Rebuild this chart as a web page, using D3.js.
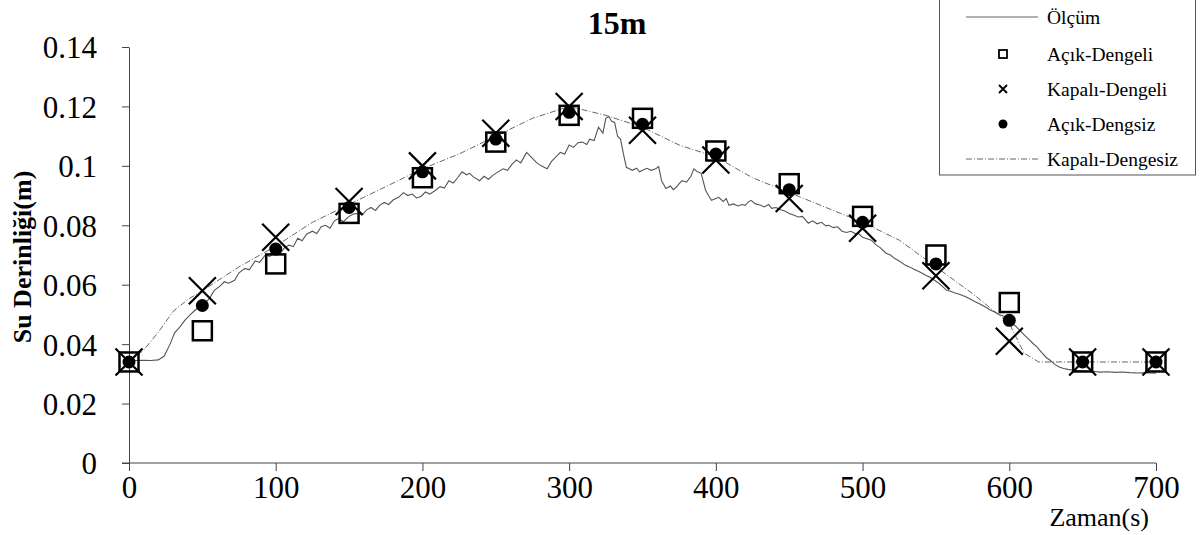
<!DOCTYPE html>
<html>
<head>
<meta charset="utf-8">
<script src="https://cdn.jsdelivr.net/npm/d3@7"></script>
<style>
  body { margin: 0; background: #fff; }
  text { font-family: "Liberation Serif", "Times New Roman", serif; fill: #000; }
</style>
</head>
<body>
<div id="chart"></div>
<script>
var width = 1203,
    height = 535;

// marker times (s)
var times = [0, 50, 100, 150, 200, 250, 300, 350, 400, 450, 500, 550, 600, 650, 700];

// Açık-Dengeli (squares)
var acikDengeli = [0.034, 0.0445, 0.067, 0.084, 0.096, 0.108, 0.117, 0.116, 0.105, 0.094, 0.083, 0.070, 0.054, 0.034, 0.034];
// Kapalı-Dengeli (crosses)
var kapaliDengeli = [0.034, 0.058, 0.076, 0.088, 0.100, 0.111, 0.120, 0.112, 0.102, 0.089, 0.079, 0.063, 0.041, 0.034, 0.034];
// Açık-Dengsiz (dots)
var acikDengsiz = [0.034, 0.053, 0.072, 0.086, 0.098, 0.109, 0.118, 0.114, 0.104, 0.092, 0.081, 0.067, 0.048, 0.034, 0.034];

// Kapalı-Dengesiz (dashed line)
var kdT = [0, 10, 20, 30, 40, 50, 75, 100, 125, 150, 175, 200, 225, 250, 275, 300, 325, 350, 375, 400, 425, 450, 475, 500, 525, 550, 575, 600, 610, 620, 700];
var kdV = [0.034, 0.038, 0.044, 0.051, 0.055, 0.058, 0.066, 0.073, 0.081, 0.087, 0.093, 0.099, 0.104, 0.110, 0.116, 0.120, 0.117, 0.113, 0.107, 0.103, 0.096, 0.091, 0.086, 0.081, 0.075, 0.066, 0.057, 0.047, 0.037, 0.034, 0.034];

// Ölçüm (measured)
var olcumT = [0, 5, 10, 15, 20, 24, 28, 31, 35, 38, 42, 45, 48, 52, 55, 58, 62, 65, 68, 72, 75, 79, 82, 86, 89, 93, 96, 99, 103, 106, 109, 112, 115, 118, 121, 125, 128, 131, 134, 137, 140, 143, 146, 150, 153, 156, 159, 162, 165, 168, 171, 174, 177, 180, 184, 187, 190, 193, 196, 199, 202, 205, 209, 212, 215, 218, 221, 224, 227, 230, 232, 235, 239, 242, 245, 248, 251, 255, 258, 261, 264, 267, 271, 274, 278, 281, 285, 288, 291, 294, 297, 300, 303, 306, 309, 312, 314, 317, 320, 323, 325, 327, 329, 331, 333, 335, 337, 339, 341, 343, 346, 348, 350, 353, 356, 359, 361, 363, 366, 369, 371, 373, 375, 377, 380, 383, 385, 387, 390, 393, 395, 397, 400, 402, 405, 407, 409, 412, 415, 418, 420, 422, 424, 427, 430, 433, 436, 438, 441, 444, 447, 450, 453, 456, 459, 463, 466, 469, 472, 475, 477, 480, 483, 486, 489, 492, 495, 497, 500, 503, 506, 509, 512, 516, 519, 522, 525, 529, 532, 535, 538, 541, 543, 546, 549, 552, 555, 557, 560, 563, 566, 569, 571, 574, 577, 580, 584, 587, 590, 593, 596, 598, 601, 604, 607, 610, 613, 616, 619, 622, 625, 628, 631, 634, 637, 640, 643, 647, 652, 657, 662, 667, 672, 677, 682, 688, 694, 700];
var olcumV = [0.0346, 0.0345, 0.0346, 0.0345, 0.0347, 0.0360, 0.0400, 0.0437, 0.0460, 0.0480, 0.0500, 0.0514, 0.0525, 0.0540, 0.0555, 0.0580, 0.0595, 0.0610, 0.0605, 0.0615, 0.0640, 0.0655, 0.0650, 0.0680, 0.0675, 0.0700, 0.0695, 0.0710, 0.0705, 0.0725, 0.0733, 0.0728, 0.0756, 0.0748, 0.0770, 0.0780, 0.0772, 0.0795, 0.0800, 0.0790, 0.0815, 0.0823, 0.0812, 0.0830, 0.0838, 0.0840, 0.0835, 0.0852, 0.0860, 0.0850, 0.0868, 0.0877, 0.0870, 0.0885, 0.0895, 0.0910, 0.0900, 0.0905, 0.0892, 0.0897, 0.0912, 0.0905, 0.0918, 0.0930, 0.0925, 0.0950, 0.0942, 0.0960, 0.0980, 0.0970, 0.0975, 0.0962, 0.0950, 0.0965, 0.0955, 0.0968, 0.0978, 0.0990, 0.0985, 0.1005, 0.1020, 0.1010, 0.1045, 0.1030, 0.1010, 0.1000, 0.0990, 0.1015, 0.1030, 0.1045, 0.1040, 0.1070, 0.1062, 0.1078, 0.1080, 0.1072, 0.1090, 0.1085, 0.1130, 0.1110, 0.1160, 0.1166, 0.1150, 0.1146, 0.1100, 0.1090, 0.1040, 0.0995, 0.0990, 0.0985, 0.0992, 0.0980, 0.0985, 0.0992, 0.0985, 0.0990, 0.0998, 0.0950, 0.0924, 0.0932, 0.0920, 0.0928, 0.0940, 0.0950, 0.0945, 0.0965, 0.0990, 0.0982, 0.0975, 0.0918, 0.0900, 0.0884, 0.0890, 0.0894, 0.0880, 0.0890, 0.0867, 0.0872, 0.0865, 0.0870, 0.0867, 0.0878, 0.0884, 0.0872, 0.0868, 0.0862, 0.0870, 0.0857, 0.0860, 0.0852, 0.0848, 0.0840, 0.0835, 0.0828, 0.0830, 0.0807, 0.0815, 0.0805, 0.0810, 0.0798, 0.0800, 0.0792, 0.0795, 0.0780, 0.0776, 0.0780, 0.0772, 0.0773, 0.0760, 0.0755, 0.0750, 0.0735, 0.0725, 0.0706, 0.0700, 0.0688, 0.0680, 0.0666, 0.0660, 0.0652, 0.0645, 0.0638, 0.0632, 0.0625, 0.0615, 0.0605, 0.0592, 0.0582, 0.0578, 0.0572, 0.0568, 0.0562, 0.0558, 0.0550, 0.0542, 0.0535, 0.0524, 0.0515, 0.0508, 0.0500, 0.0495, 0.0490, 0.0475, 0.0462, 0.0447, 0.0432, 0.0418, 0.0403, 0.0390, 0.0372, 0.0356, 0.0345, 0.0332, 0.0323, 0.0318, 0.0315, 0.0313, 0.0310, 0.0308, 0.0309, 0.0306, 0.0307, 0.0305, 0.0306, 0.0304, 0.0303, 0.0304, 0.0302];

var yTicks = [0, 0.02, 0.04, 0.06, 0.08, 0.1, 0.12, 0.14];
var yTickLabels = ["0", "0.02", "0.04", "0.06", "0.08", "0.1", "0.12", "0.14"];
var xTicks = [0, 100, 200, 300, 400, 500, 600, 700];

var legendNames = ["Ölçüm", "Açık-Dengeli", "Kapalı-Dengeli", "Açık-Dengsiz", "Kapalı-Dengesiz"];

var svg = d3.select("#chart").append("svg")
    .attr("width", width)
    .attr("height", height)
    .attr("font-family", "'Liberation Serif', serif");

var x = d3.scaleLinear().domain([0, 700]).range([129, 1156]);
var y = d3.scaleLinear().domain([0, 0.14]).range([463, 47]);

// axes
var xAxis = svg.append("g")
    .attr("transform", "translate(0," + y(0) + ")")
    .call(d3.axisBottom(x).tickValues(xTicks).tickSize(8).tickPadding(5).tickSizeOuter(0));
xAxis.select(".domain").attr("d", "M122,0H" + x(700));

var yAxis = svg.append("g")
    .attr("transform", "translate(" + x(0) + ",0)")
    .call(d3.axisLeft(y).tickValues(yTicks).tickSize(7).tickPadding(25).tickSizeOuter(0)
      .tickFormat(function(d, i) { return yTickLabels[i]; }));

svg.selectAll(".domain, .tick line").attr("stroke", "#444").attr("stroke-width", 1);
svg.selectAll(".tick text")
    .style("font-family", "'Liberation Serif', serif")
    .style("font-size", "31px")
    .attr("fill", "#000");
yAxis.selectAll(".tick text").attr("dy", "0.35em");

// titles
svg.append("text")
    .attr("x", 617).attr("y", 34)
    .attr("text-anchor", "middle")
    .style("font-size", "32px").style("font-weight", "bold")
    .text("15m");

svg.append("text")
    .attr("transform", "translate(31,257) rotate(-90)")
    .attr("text-anchor", "middle")
    .style("font-size", "26px").style("font-weight", "bold")
    .text("Su Derinliği(m)");

svg.append("text")
    .attr("x", 1149).attr("y", 526)
    .attr("text-anchor", "end")
    .style("font-size", "26px")
    .text("Zaman(s)");

// lines
var line = d3.line()
    .x(function(d) { return x(d[0]); })
    .y(function(d) { return y(d[1]); });

var kdData = kdT.map(function(t, i) { return [t, kdV[i]]; });
var olcumData = olcumT.map(function(t, i) { return [t, olcumV[i]]; });

svg.append("path")
    .datum(kdData)
    .attr("d", line)
    .attr("fill", "none")
    .attr("stroke", "#666")
    .attr("stroke-width", 1)
    .attr("stroke-dasharray", "6,2,1,2");

svg.append("path")
    .datum(olcumData)
    .attr("d", line)
    .attr("fill", "none")
    .attr("stroke", "#555")
    .attr("stroke-width", 1.1);

// markers
function squares(g, data, s, sw) {
  g.selectAll("rect").data(data).enter().append("rect")
      .attr("x", function(d) { return x(d[0]) - s / 2; })
      .attr("y", function(d) { return y(d[1]) - s / 2; })
      .attr("width", s).attr("height", s)
      .attr("fill", "none").attr("stroke", "#000").attr("stroke-width", sw);
}
function crosses(g, data, s, sw) {
  g.selectAll("path").data(data).enter().append("path")
      .attr("d", function(d) {
        var cx = x(d[0]), cy = y(d[1]), h = s / 2;
        return "M" + (cx - h) + "," + (cy - h) + "L" + (cx + h) + "," + (cy + h) +
               "M" + (cx - h) + "," + (cy + h) + "L" + (cx + h) + "," + (cy - h);
      })
      .attr("stroke", "#000").attr("stroke-width", sw);
}
function dots(g, data, r) {
  g.selectAll("circle").data(data).enter().append("circle")
      .attr("cx", function(d) { return x(d[0]); })
      .attr("cy", function(d) { return y(d[1]); })
      .attr("r", r).attr("fill", "#000");
}

var pair = function(arr) { return times.map(function(t, i) { return [t, arr[i]]; }); };

squares(svg.append("g"), pair(acikDengeli), 19, 2.5);
crosses(svg.append("g"), pair(kapaliDengeli), 27, 2.2);
dots(svg.append("g"), pair(acikDengsiz), 6.5);

// legend
var lg = svg.append("g");
lg.append("rect")
    .attr("x", 939.5).attr("y", -2)
    .attr("width", 256).attr("height", 177)
    .attr("fill", "#fff").attr("stroke", "#555").attr("stroke-width", 1);

var rowY = [17, 54, 89, 124, 159];
lg.selectAll("text.leg").data(legendNames).enter().append("text")
    .attr("class", "leg")
    .attr("x", 1047)
    .attr("y", function(d, i) { return rowY[i]; })
    .attr("dy", "0.35em")
    .style("font-size", "19.5px")
    .text(function(d) { return d; });

lg.append("line").attr("x1", 966).attr("x2", 1038).attr("y1", rowY[0]).attr("y2", rowY[0])
    .attr("stroke", "#666").attr("stroke-width", 1);
lg.append("line").attr("x1", 966).attr("x2", 1038).attr("y1", rowY[4]).attr("y2", rowY[4])
    .attr("stroke", "#666").attr("stroke-width", 1).attr("stroke-dasharray", "6,2,1,2");
lg.append("rect").attr("x", 999).attr("y", rowY[1] - 4).attr("width", 8).attr("height", 8)
    .attr("fill", "none").attr("stroke", "#000").attr("stroke-width", 1.8);
lg.append("path")
    .attr("d", "M999," + (rowY[2] - 4) + "l8,8M999," + (rowY[2] + 4) + "l8,-8")
    .attr("stroke", "#000").attr("stroke-width", 1.8);
lg.append("circle").attr("cx", 1003).attr("cy", rowY[3]).attr("r", 4.5).attr("fill", "#000");
</script>
</body>
</html>
